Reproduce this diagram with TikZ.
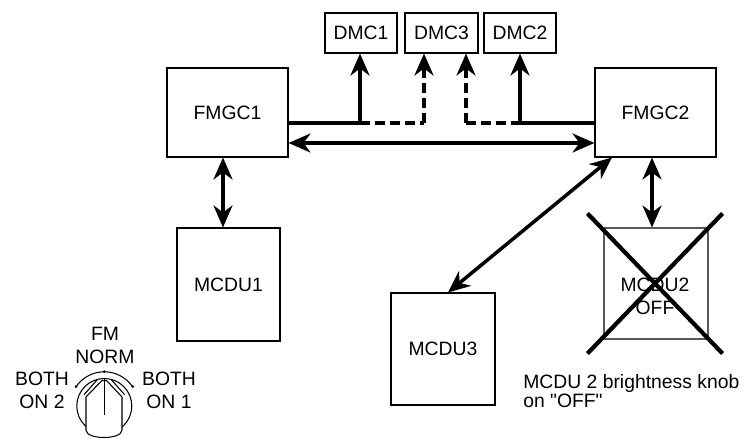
\documentclass[tikz,border=0pt]{standalone}
\usepackage{fontspec}
\setmainfont{Liberation Sans}
\usepackage{tikz}
\usetikzlibrary{positioning, arrows.meta}

\begin{document}
\begin{tikzpicture}[
	    every node/.style={font=\fontsize{11}{13.1}\selectfont},
	    unit/.style={draw, line width=0.6pt, inner sep=0pt},
	    plain/.style={inner sep=0pt, align=center},
	    arrow/.style={-{Stealth[length=4.4mm, width=3.8mm, inset=1.4mm]}, line width=2pt},
	    dblarrow/.style={{Stealth[length=4.4mm, width=3.8mm, inset=1.4mm]}-{Stealth[length=4.4mm, width=3.8mm, inset=1.4mm]}, line width=2pt},
	    bus/.style={line width=2pt},
	    dashbus/.style={line width=2pt, dash pattern=on 2mm off 1mm}
	]
		\useasboundingbox (0,0) rectangle (14.92,8.78);

		\node[unit, minimum width=24.2mm, minimum height=17.8mm] (fmgc1) at (4.55, 6.53) {FMGC1};
		\node[unit, minimum width=24.2mm, minimum height=17.8mm] (fmgc2) at (13.11, 6.53) {FMGC2};

		\node[unit, minimum width=14.4mm, minimum height=8mm] (dmc1) at (7.22, 8.12) {DMC1};
		\node[unit, minimum width=14.6mm, minimum height=8mm] (dmc3) at (8.83, 8.12) {DMC3};
		\node[unit, minimum width=14.4mm, minimum height=8mm] (dmc2) at (10.40, 8.12) {DMC2};

		\node[unit, minimum width=20.6mm, minimum height=22.6mm] (mcdu1) at (4.57, 3.09) {MCDU1};
		\node[unit, draw=black!65, minimum width=20.8mm, minimum height=22.2mm] (mcdu2) at (13.12, 3.11) {};
		\node[plain] (mcdu2txt) at (13.10, 2.85) {MCDU2\\OFF};
		\node[unit, minimum width=20.8mm, minimum height=22.4mm] (mcdu3) at (8.86, 1.80) {\raisebox{-1.6mm}{MCDU3}};

		\node[plain, anchor=west, align=left, font=\fontsize{11}{10.4}\selectfont] (note) at (10.46, 0.96) {MCDU 2 brightness knob\\on \textquotedbl OFF\textquotedbl};

		% bus to the DMCs
		\coordinate (j1) at (7.20, 6.32);
		\coordinate (j2) at (8.48, 6.32);
		\coordinate (j3) at (9.32, 6.32);
		\coordinate (j4) at (10.40, 6.32);

		\draw[bus] (fmgc1.east |- j1) -- (j1);
		\draw[dashbus] (j1) -- (j2);
		\draw[dashbus] (j3) -- (j4);
		\draw[bus] (j4) -- (fmgc2.west |- j4);

		\draw[arrow] (j1) -- (j1 |- dmc1.south);
		\draw[arrow, dash pattern=on 2mm off 1mm] (j2) -- (j2 |- dmc3.south);
		\draw[arrow, dash pattern=on 2mm off 1mm] (j3) -- (j3 |- dmc3.south);
		\draw[arrow] (j4) -- (j4 |- dmc2.south);

		% links
		\draw[dblarrow] (fmgc1.east |- 0,5.92) -- (fmgc2.west |- 0,5.92);
		\draw[dblarrow] ([xshift=-0.9mm]fmgc1.south) -- ([xshift=-0.9mm]fmgc1.south |- mcdu1.north);
		\draw[dblarrow] ([xshift=-0.7mm]fmgc2.south) -- ([xshift=-0.7mm]fmgc2.south |- mcdu2.north);
		\draw[dblarrow] (mcdu3.85) -- (fmgc2.226);

		% MCDU2 switched off
		\draw[line width=2.4pt] ([xshift=-3.2mm, yshift=2.8mm]mcdu2.north west) -- ([xshift=2.8mm, yshift=-2.8mm]mcdu2.south east);
		\draw[line width=2.4pt] ([xshift=2.8mm, yshift=2.8mm]mcdu2.north east) -- ([xshift=-3.2mm, yshift=-2.8mm]mcdu2.south west);

		% FM selector knob
		\node[plain] (fmnorm) at (2.10, 1.88) {FM\\NORM};
		\node[plain] (both2) at (0.84, 0.98) {BOTH\\ON 2};
		\node[plain] (both1) at (3.38, 0.98) {BOTH\\ON 1};

		\draw[line width=0.6pt] (2.086, 0.66) ++(34:0.684) arc (34:146:0.684);
		\fill (1.52, 1.046) circle (0.03) (2.654, 1.046) circle (0.03) (2.086, 1.346) circle (0.03);
		\draw[line width=0.6pt] (2.086, 0.66) circle (0.55);
		\draw[line width=0.6pt, fill=white] (1.72, 0.84) -- (2.04, 1.17) -- (2.13, 1.17) -- (2.44, 0.84) -- (2.44, 0.18)
			.. controls (2.44, -0.02) and (1.72, -0.02) .. (1.72, 0.18) -- cycle;
		\draw[line width=0.6pt] (1.946, 1.186) -- (1.68, 0.886);
		\draw[line width=0.6pt] (2.226, 1.186) -- (2.492, 0.886);
		\draw[line width=0.6pt] (2.086, 1.22) -- (2.086, 0.48);
	\end{tikzpicture}
\end{document}
